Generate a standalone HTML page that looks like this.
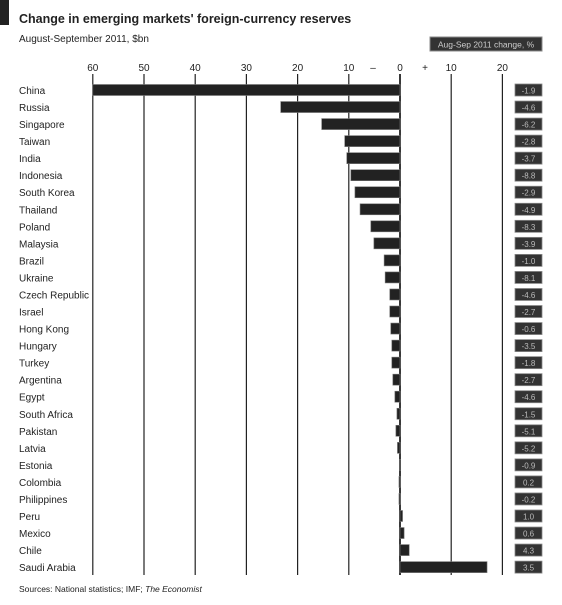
<!DOCTYPE html>
<html><head><meta charset="utf-8"><style>
body{margin:0;background:#fff;width:562px;height:600px;overflow:hidden;font-family:"Liberation Sans",sans-serif;}
</style></head><body>
<svg id="chart" width="562" height="600" xmlns="http://www.w3.org/2000/svg">
<rect x="0" y="0" width="9" height="25" fill="#222"/>
<text x="19" y="23" font-size="12.5" font-weight="bold" fill="#222">Change in emerging markets' foreign-currency reserves</text>
<text x="19" y="42" font-size="10" fill="#222">August-September 2011, $bn</text>
<rect x="430" y="37" width="112" height="14" fill="#333" stroke="#888"/>
<text x="486" y="47.5" font-size="8.5" fill="#ccc" text-anchor="middle">Aug-Sep 2011 change, %</text>
<text x="373" y="71" font-size="10" fill="#222" text-anchor="middle">–</text>
<text x="425" y="71" font-size="10" fill="#222" text-anchor="middle">+</text>
<g id="grid"></g><g id="bars"></g><g id="labels"></g>
<text x="19" y="592" font-size="8.5" fill="#222">Sources: National statistics; IMF; <tspan font-style="italic">The Economist</tspan></text>
</svg>
<script>
const countries=["China","Russia","Singapore","Taiwan","India","Indonesia","South Korea","Thailand","Poland","Malaysia","Brazil","Ukraine","Czech Republic","Israel","Hong Kong","Hungary","Turkey","Argentina","Egypt","South Africa","Pakistan","Latvia","Estonia","Colombia","Philippines","Peru","Mexico","Chile","Saudi Arabia"];
const changes=[-60,-23.3,-15.3,-10.8,-10.4,-9.6,-8.8,-7.8,-5.7,-5.1,-3.1,-2.9,-2,-2,-1.8,-1.6,-1.6,-1.4,-1,-0.6,-0.8,-0.5,-0.1,-0.2,-0.2,0.5,0.8,1.8,17];
const pctLabels=["-1.9","-4.6","-6.2","-2.8","-3.7","-8.8","-2.9","-4.9","-8.3","-3.9","-1.0","-8.1","-4.6","-2.7","-0.6","-3.5","-1.8","-2.7","-4.6","-1.5","-5.1","-5.2","-0.9","0.2","-0.2","1.0","0.6","4.3","3.5"];
const ticks=[-60,-50,-40,-30,-20,-10,0,10,20];
const tickLabels=["60","50","40","30","20","10","0","10","20"];
const NS="http://www.w3.org/2000/svg";
const x=v=>400+v*5.12;
const y=i=>90+i*17.04;
function mk(t,a,p){const e=document.createElementNS(NS,t);for(const k in a)e.setAttribute(k,a[k]);document.getElementById(p).appendChild(e);return e;}
ticks.forEach((t,i)=>{
 const l=mk('line',{x1:x(t),x2:x(t),y1:74,y2:575,stroke:'#222','stroke-width':t===0?1.8:1.2},'grid');
 
 
 const tx=mk('text',{x:x(t),y:71,'font-size':10,'text-anchor':'middle',fill:'#222'},'grid');
 tx.textContent=tickLabels[i];
 
 
});
countries.forEach((c,i)=>{
 const v=changes[i];
 const b=mk('rect',{x:Math.min(x(0),x(v)),y:y(i)-5.5,width:Math.max(Math.abs(x(v)-x(0)),1.2),height:11,fill:'#222',stroke:'#777','stroke-width':0.6},'bars');
 
 
 const t=mk('text',{x:19,y:y(i)+4,'font-size':10,fill:'#222'},'labels');
 t.textContent=c;
 
 
 const pb=mk('rect',{x:515,y:y(i)-6,width:27,height:12,fill:'#333',stroke:'#888','stroke-width':0.8},'labels');
 
 
 const pt=mk('text',{x:528.5,y:y(i)+3.5,'font-size':8,fill:'#bbb','text-anchor':'middle'},'labels');
 pt.textContent=pctLabels[i];
 
 
});
</script>
</body></html>
